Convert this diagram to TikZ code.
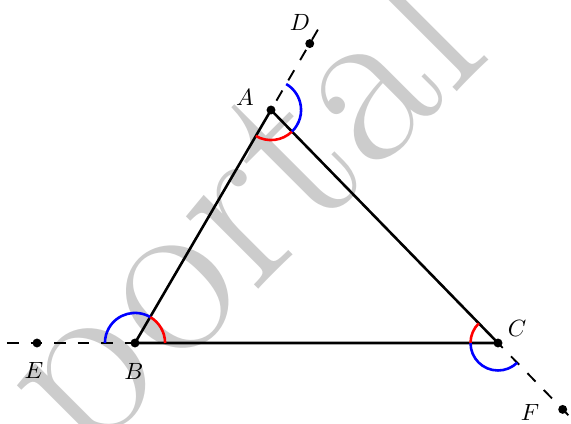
\documentclass[tikz,border=0pt]{standalone}
\usetikzlibrary{calc,angles}
\begin{document}
\begin{tikzpicture}[x=0.4255pt,y=0.4255pt,
  tri/.style={line width=1.1pt,line cap=round,line join=round},
  extline/.style={line width=0.8pt,dash pattern=on 5pt off 5pt},
  redarc/.style={draw=red,line width=1.1pt},
  bluearc/.style={draw=blue,line width=1.1pt},
  lbl/.style={inner sep=0pt},
  wm/.style={text=black!20,inner sep=0pt,rotate=45,font=\fontsize{102}{102}\selectfont}]
\clip (0,0) rectangle (571,423);
% watermark
\node[wm] (wmark) at (247,206) {portal};
% points
\coordinate (A) at (271,313);
\coordinate (B) at (135,80);
\coordinate (C) at (498,80);
\coordinate (D) at ($(B)!1.285!(A)$);
\coordinate (E) at (37,80);
\coordinate (F) at ($(A)!1.285!(C)$);
\coordinate (Dend) at ($(B)!1.345!(A)$);
\coordinate (Eend) at (7,80);
\coordinate (Fend) at ($(A)!1.31!(C)$);
% dashed extensions
\draw[extline] (Dend) -- (A);
\draw[extline] (Eend) -- (B);
\draw[extline] (Fend) -- (C);
% triangle
\draw[tri] (A) -- (B) -- (C) -- cycle;
% angles
\pic[redarc,angle radius=12.8pt] {angle=C--B--A};
\pic[bluearc,angle radius=12.8pt] {angle=A--B--E};
\pic[redarc,angle radius=12.8pt] {angle=B--A--C};
\pic[bluearc,angle radius=12.8pt] {angle=C--A--D};
\pic[redarc,angle radius=11.7pt] {angle=A--C--B};
\pic[bluearc,angle radius=11.7pt] {angle=B--C--F};
% dots
\foreach \p in {A,B,C,D,E,F} \fill (\p) circle (1.9pt);
% labels
\node[lbl] (lA) at (245,326) {$A$};
\node[lbl] (lB) at (134,52) {$B$};
\node[lbl] (lC) at (517,95) {$C$};
\node[lbl] (lD) at (300,401) {$D$};
\node[lbl] (lE) at (34,53) {$E$};
\node[lbl] (lF) at (530,10.5) {$F$};
\end{tikzpicture}
\end{document}
